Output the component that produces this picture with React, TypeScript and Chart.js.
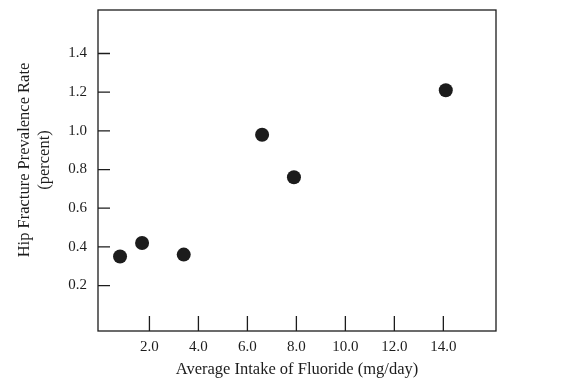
import React, { useEffect, useRef } from "react";
import { Chart, registerables } from "chart.js";

Chart.register(...registerables);

const fluorideIntake = [0.8, 1.7, 3.4, 6.6, 7.9, 14.1];
const fractureRate = [0.35, 0.42, 0.36, 0.98, 0.76, 1.21];
const xTickValues = [2, 4, 6, 8, 10, 12, 14];
const yTickValues = [0.2, 0.4, 0.6, 0.8, 1.0, 1.2, 1.4];
const xTitle = "Average Intake of Fluoride (mg/day)";
const yTitle = ["Hip Fracture Prevalence Rate", "(percent)"];

const FONT = "'Liberation Serif', 'DejaVu Serif', serif";
const INK = "#1c1c1c";

const framePlugin = {
  id: "frame",
  afterDraw(chart: any) {
    const { ctx, chartArea, scales } = chart;
    const { left, right, top, bottom } = chartArea;
    ctx.save();
    ctx.strokeStyle = INK;
    ctx.lineWidth = 1.3;
    ctx.strokeRect(left, top, right - left, bottom - top);
    ctx.beginPath();
    for (const v of yTickValues) {
      const py = scales.y.getPixelForValue(v);
      ctx.moveTo(left, py);
      ctx.lineTo(left + 12, py);
    }
    for (const v of xTickValues) {
      const px = scales.x.getPixelForValue(v);
      ctx.moveTo(px, bottom);
      ctx.lineTo(px, bottom - 15);
    }
    ctx.stroke();

    // y-axis title (two lines, rotated)
    ctx.fillStyle = INK;
    ctx.font = `16.5px ${FONT}`;
    ctx.textAlign = "center";
    ctx.textBaseline = "middle";
    ctx.translate(0, 160);
    ctx.rotate(-Math.PI / 2);
    ctx.fillText(yTitle[0], 0, 25);
    ctx.fillText(yTitle[1], 0, 45);
    ctx.restore();
  },
};

export default function App() {
  const canvasRef = useRef<HTMLCanvasElement | null>(null);

  useEffect(() => {
    const canvas = canvasRef.current;
    if (!canvas) return;
    const chart = new Chart(canvas, {
      type: "scatter",
      data: {
        datasets: [
          {
            label: "Hip fracture rate",
            data: fluorideIntake.map((x, i) => ({ x, y: fractureRate[i] })),
            backgroundColor: INK,
            borderWidth: 0,
            pointRadius: 7,
            pointHoverRadius: 7,
          },
        ],
      },
      options: {
        responsive: false,
        animation: false,
        events: [],
        layout: { padding: { top: 10, right: 70, left: 0, bottom: 0 } },
        plugins: {
          legend: { display: false },
          tooltip: { enabled: false },
        },
        scales: {
          x: {
            type: "linear",
            min: -0.1,
            max: 16.15,
            grid: { display: false, drawTicks: false },
            border: { display: false },
            afterFit: (s: any) => {
              s.height = 58;
              s.paddingLeft = 0;
              s.paddingRight = 0;
            },
            afterBuildTicks: (s: any) => {
              s.ticks = xTickValues.map((v) => ({ value: v }));
            },
            ticks: {
              padding: 7,
              color: INK,
              font: { family: FONT, size: 15 },
              callback: (v: any) => Number(v).toFixed(1),
            },
            title: {
              display: true,
              text: xTitle,
              color: INK,
              font: { family: FONT, size: 16.5, lineHeight: 1.2 },
              padding: { top: 0, bottom: 9 },
            },
          },
          y: {
            type: "linear",
            min: -0.035,
            max: 1.625,
            grid: { display: false, drawTicks: false },
            border: { display: false },
            afterFit: (s: any) => {
              s.width = 98;
              s.paddingTop = 0;
              s.paddingBottom = 0;
            },
            afterBuildTicks: (s: any) => {
              s.ticks = yTickValues.map((v) => ({ value: v }));
            },
            ticks: {
              padding: 11,
              color: INK,
              font: { family: FONT, size: 15 },
              callback: (v: any) => Number(v).toFixed(1),
            },
            title: { display: false },
          },
        },
      },
      plugins: [framePlugin],
    });
    return () => chart.destroy();
  }, []);

  return (
    <div style={{ position: "absolute", left: 0, top: 0, width: 566, height: 389, background: "#fff" }}>
      <canvas ref={canvasRef} width={566} height={389} style={{ display: "block" }} />
    </div>
  );
}
